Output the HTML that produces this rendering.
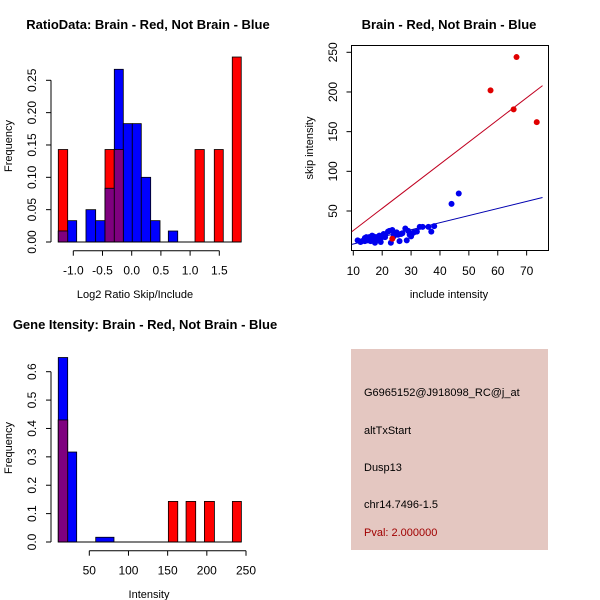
<!DOCTYPE html>
<html><head><meta charset="utf-8"><style>
html,body{margin:0;padding:0;background:#fff}
svg{display:block;font-family:"Liberation Sans",sans-serif}
</style></head><body>
<svg id="c" width="600" height="600" viewBox="0 0 600 600" xmlns="http://www.w3.org/2000/svg">
<rect x="0" y="0" width="600" height="600" fill="#fff"/>
<g id="p1"></g>
<g id="p2"></g>
<g id="p3"></g>
<g id="p4">
<rect x="351" y="349" width="197" height="201" fill="#e4c7c1"/>
<text x="364" y="396" font-size="11" fill="#000">G6965152@J918098_RC@j_at</text>
<text x="364" y="434" font-size="11" fill="#000">altTxStart</text>
<text x="364" y="471" font-size="11" fill="#000">Dusp13</text>
<text x="364" y="508" font-size="11" fill="#000">chr14.7496-1.5</text>
<text x="364" y="536" font-size="11" fill="#a00000">Pval: 2.000000</text>
</g>
</svg>
<script>
// Panel 1 data: bins [left, right, height]
const ratioRedBins = [[-1.257,-1.096,0.143],[-0.457,-0.298,0.143],[-0.298,-0.144,0.143],[1.084,1.243,0.143],[1.414,1.568,0.143],[1.722,1.876,0.286]];
const ratioBlueBins = [[-1.257,-1.096,0.017],[-1.096,-0.942,0.033],[-0.783,-0.617,0.05],[-0.617,-0.457,0.033],[-0.457,-0.298,0.083],[-0.298,-0.144,0.267],[-0.144,0.01,0.183],[0.01,0.164,0.183],[0.164,0.325,0.1],[0.325,0.485,0.033],[0.627,0.788,0.017]];
const ratioXTicks = [-1.0,-0.5,0.0,0.5,1.0,1.5];
const ratioXLabels = ["-1.0","-0.5","0.0","0.5","1.0","1.5"];
const ratioYTicks = [0,0.05,0.10,0.15,0.20,0.25];
const ratioYLabels = ["0.00","0.05","0.10","0.15","0.20","0.25"];
// Panel 2 data
const redX = [57.5,66.5,65.5,73.5,23.5];
const redY = [202,244,178,162,15];
const blueX = [11.5,12.5,13,14,14,14.5,15,15.5,16,16,16.5,17,17.5,18,18.5,19,19.5,20,20.5,21,22,22.5,23,23.5,24,24.5,25,25.5,26,26.5,28,28.5,29,29.5,30,30.5,31,32,33,34,36,37,38,44,46.5,15,17,19,21,24,27];
const blueY = [13,11,12,16,12,17,13,17,14,12,19,16,10,17,14,19,11,17,21,17,24,25,10,26,20,21,23,20,12,21,28,13,25,20,18,22,23,24,30,30,30,24,31,59,72,15,18,15,20,18,22];
const redLine = [[9.5,24],[75.5,208]];
const blueLine = [[9.5,8],[75.5,67]];
const scXTicks = [10,20,30,40,50,60,70];
const scYTicks = [50,100,150,200,250];
// Panel 3 data
const intRedBins = [[10.4,22.4,0.43],[150.9,162.9,0.143],[173.5,185.8,0.143],[196.9,209.7,0.143],[232.6,244.1,0.143]];
const intBlueBins = [[10.4,22.4,0.65],[22.4,33.9,0.317],[58.2,81.5,0.0167]];
const intXTicks = [50,100,150,200,250];
const intYTicks = [0,0.1,0.2,0.3,0.4,0.5,0.6];
const intYLabels = ["0.0","0.1","0.2","0.3","0.4","0.5","0.6"];

const NS="http://www.w3.org/2000/svg";
function mk(parent, tag, attrs){const e=document.createElementNS(NS,tag);for(const k in attrs)e.setAttribute(k,attrs[k]);parent.appendChild(e);return e;}
function txt(parent,x,y,s,size,opts){const e=mk(parent,'text',{x:x,y:y,'font-size':size,'text-anchor':'middle'});if(opts&&opts.rot)e.setAttribute('transform','rotate(-90 '+x+' '+y+')');if(opts&&opts.bold)e.setAttribute('font-weight','bold');e.textContent=s;return e;}

function histogram(g, xs, ys, red, blue, axisY, yAxisX, xTicks, xLabels, yTicks, yLabels){
  red.forEach(b=>{
    const r=mk(g,'rect',{x:xs(b[0]),y:ys(b[2]),width:xs(b[1])-xs(b[0]),height:ys(0)-ys(b[2]),fill:'#ff0000',stroke:'#000','stroke-width':0.8});
    
    
  });
  blue.forEach(b=>{
    const r=mk(g,'rect',{x:xs(b[0]),y:ys(b[2]),width:xs(b[1])-xs(b[0]),height:ys(0)-ys(b[2]),fill:'#0000ff',stroke:'#000','stroke-width':0.8});
    
    
  });
  red.forEach(rb=>{blue.forEach(bb=>{
    if(Math.abs(rb[0]-bb[0])<0.001){
      const h=Math.min(rb[2],bb[2]);
      const r=mk(g,'rect',{x:xs(rb[0]),y:ys(h),width:xs(rb[1])-xs(rb[0]),height:ys(0)-ys(h),fill:'#7f007f',stroke:'#000','stroke-width':0.8});
      
      
    }});});
  const allB=red.concat(blue);
  const minX=Math.min(...allB.map(b=>b[0])),maxX=Math.max(...allB.map(b=>b[1]));
  mk(g,'line',{x1:xs(minX),y1:ys(0),x2:xs(maxX),y2:ys(0),stroke:'#000','stroke-width':1});
  const xa=mk(g,'g',{});
  
  
  mk(xa,'line',{x1:xs(xTicks[0]),y1:axisY,x2:xs(xTicks[xTicks.length-1]),y2:axisY,stroke:'#000'});
  xTicks.forEach((t,i)=>{mk(xa,'line',{x1:xs(t),y1:axisY,x2:xs(t),y2:axisY+5,stroke:'#000'});txt(xa,xs(t),axisY+24,xLabels[i],12);});
  const ya=mk(g,'g',{});
  
  
  mk(ya,'line',{x1:yAxisX,y1:ys(yTicks[0]),x2:yAxisX,y2:ys(yTicks[yTicks.length-1]),stroke:'#000'});
  yTicks.forEach((t,i)=>{mk(ya,'line',{x1:yAxisX-5,y1:ys(t),x2:yAxisX,y2:ys(t),stroke:'#000'});txt(ya,yAxisX-15,ys(t),yLabels[i],12,{rot:true});});
}

// Panel 1
(function(){
  const g=document.getElementById('p1');
  const xs=v=>73.3+(v+1.0)*58.4;
  const ys=v=>242-v*(161.7/0.25);
  histogram(g,xs,ys,ratioRedBins,ratioBlueBins,250.7,51,ratioXTicks,ratioXLabels,ratioYTicks,ratioYLabels);
  const t=txt(g,148,29,'RatioData: Brain - Red, Not Brain - Blue',13,{bold:true});
  const xl=txt(g,135,298,'Log2 Ratio Skip/Include',11);
  const yl=txt(g,12,146,'Frequency',11,{rot:true});
})();

// Panel 2
(function(){
  const g=document.getElementById('p2');
  const xs=v=>353.3+(v-10)*2.889;
  const ys=v=>211-(v-50)*0.7935;
  const fr=mk(g,'rect',{x:351.5,y:45.5,width:197,height:205,fill:'none',stroke:'#000'});
  
  
  const cp=mk(g,'clipPath',{id:'clip2'});mk(cp,'rect',{x:351.5,y:45.5,width:197,height:205});
  const lines=mk(g,'g',{'clip-path':'url(#clip2)'});
  const rl=mk(lines,'line',{x1:xs(redLine[0][0]),y1:ys(redLine[0][1]),x2:xs(redLine[1][0]),y2:ys(redLine[1][1]),stroke:'#c00020','stroke-width':1});
  
  
  const bl=mk(lines,'line',{x1:xs(blueLine[0][0]),y1:ys(blueLine[0][1]),x2:xs(blueLine[1][0]),y2:ys(blueLine[1][1]),stroke:'#0000b0','stroke-width':1});
  
  
  blueX.forEach((x,i)=>{const c=mk(g,'circle',{cx:xs(x),cy:ys(blueY[i]),r:3,fill:'#0000ee'});
    
    });
  redX.forEach((x,i)=>{const c=mk(g,'circle',{cx:xs(x),cy:ys(redY[i]),r:3,fill:'#e00000'});
    
    });
  const xa=mk(g,'g',{});
  
  
  scXTicks.forEach(t=>{mk(xa,'line',{x1:xs(t),y1:250.5,x2:xs(t),y2:255.5,stroke:'#000'});txt(xa,xs(t),275,String(t),12);});
  const ya=mk(g,'g',{});
  
  
  scYTicks.forEach(t=>{mk(ya,'line',{x1:346.5,y1:ys(t),x2:351.5,y2:ys(t),stroke:'#000'});txt(ya,337,ys(t),String(t),12,{rot:true});});
  const t=txt(g,449,29,'Brain - Red, Not Brain - Blue',13,{bold:true});
  const xl=txt(g,449,298,'include intensity',11);
  const yl=txt(g,313,148,'skip intensity',11,{rot:true});
})();

// Panel 3
(function(){
  const g=document.getElementById('p3');
  const xs=v=>89.3+(v-50)*0.7835;
  const ys=v=>542-v*(170.3/0.6);
  histogram(g,xs,ys,intRedBins,intBlueBins,550.7,51,intXTicks,intXTicks.map(String),intYTicks,intYLabels);
  const t=txt(g,145,329,'Gene Itensity: Brain - Red, Not Brain - Blue',13,{bold:true});
  const xl=txt(g,149,598,'Intensity',11);
  const yl=txt(g,12,448,'Frequency',11,{rot:true});
})();
</script>
</body></html>
